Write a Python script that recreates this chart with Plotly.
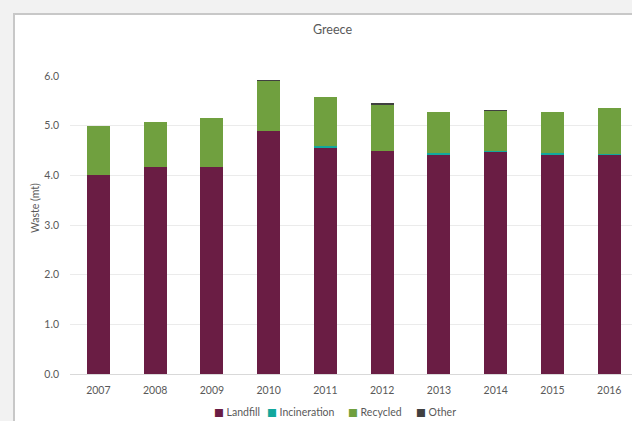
import plotly.graph_objects as go

# Municipal waste treatment, Greece (million tonnes)
years = ["2007", "2008", "2009", "2010", "2011", "2012", "2013", "2014", "2015", "2016"]
landfill = [4.00, 4.17, 4.17, 4.90, 4.57, 4.50, 4.42, 4.47, 4.42, 4.41]
incineration = [0.00, 0.00, 0.00, 0.00, 0.02, 0.00, 0.02, 0.02, 0.02, 0.02]
recycled = [1.00, 0.90, 0.98, 1.00, 0.99, 0.93, 0.84, 0.81, 0.84, 0.93]
other = [0.00, 0.00, 0.00, 0.01, 0.00, 0.03, 0.00, 0.015, 0.00, 0.00]

series_names = ["Landfill", "Incineration", "Recycled", "Other"]
series_values = [landfill, incineration, recycled, other]
series_colors = ["#6a1d44", "#12a89d", "#70a03f", "#404040"]
y_ticks = [0, 1, 2, 3, 4, 5, 6]
y_tick_labels = ["0.0", "1.0", "2.0", "3.0", "4.0", "5.0", "6.0"]

FONT = "Lato, 'DejaVu Sans', sans-serif"
TEXT = "#595959"

# plot area in pixels: x 70..632, y 76..374
PL, PR, PT, PB = 70, 632, 76, 374


def px_x(px):
    return (px - PL) / (PR - PL)


def px_y(py):
    return (PB - py) / (PB - PT)


fig = go.Figure()
for name, vals, col in zip(series_names, series_values, series_colors):
    fig.add_trace(go.Bar(
        x=list(range(len(years))), y=vals, name=name,
        marker=dict(color=col, line=dict(width=0)),
        showlegend=False,
    ))

# white chart panel with grey frame
fig.add_shape(type="rect", xref="paper", yref="paper",
              x0=px_x(14), x1=px_x(700), y0=px_y(480), y1=px_y(14),
              fillcolor="white", line=dict(color="#c8c8c8", width=2),
              layer="below")

# chart title
fig.add_annotation(text="Greece", xref="paper", yref="paper",
                   x=px_x(332), y=px_y(30), showarrow=False,
                   xanchor="center", yanchor="middle",
                   font=dict(family=FONT, size=12.5, color=TEXT))

# y axis title
fig.add_annotation(text="Waste (mt)", xref="paper", yref="paper",
                   x=px_x(35), y=px_y(208), showarrow=False, textangle=-90,
                   xanchor="center", yanchor="middle",
                   font=dict(family=FONT, size=10.5, color=TEXT))

# legend row
legend_x = [212, 265, 346, 414]
for name, col, lx in zip(series_names, series_colors, legend_x):
    fig.add_annotation(
        text=f"<span style='color:{col}'>■</span> {name}",
        xref="paper", yref="paper", x=px_x(lx), y=px_y(412),
        showarrow=False, xanchor="left", yanchor="middle",
        font=dict(family=FONT, size=10.5, color=TEXT))

fig.update_layout(
    width=632, height=421,
    margin=dict(l=PL, r=632 - PR, t=PT, b=421 - PB, pad=0),
    barmode="stack", bargap=0.595,
    paper_bgcolor="#f2f2f2", plot_bgcolor="rgba(0,0,0,0)",
    font=dict(family=FONT, size=10.5, color=TEXT),
    xaxis=dict(
        range=[-0.5, 9.4], tickmode="array",
        tickvals=list(range(len(years))), ticktext=years,
        showgrid=False, zeroline=False, showline=True,
        linecolor="#d9d9d9", linewidth=1, ticks="",
        ticklabelstandoff=6,
        tickfont=dict(family=FONT, size=10.5, color=TEXT),
    ),
    yaxis=dict(
        range=[0, 6], tickmode="array", tickvals=y_ticks, ticktext=y_tick_labels,
        showgrid=True, gridcolor="#ebebeb", gridwidth=1,
        zeroline=False, showline=False, ticks="",
        ticklabelstandoff=10,
        tickfont=dict(family=FONT, size=10.5, color=TEXT),
    ),
)

fig.write_html("out.html")
